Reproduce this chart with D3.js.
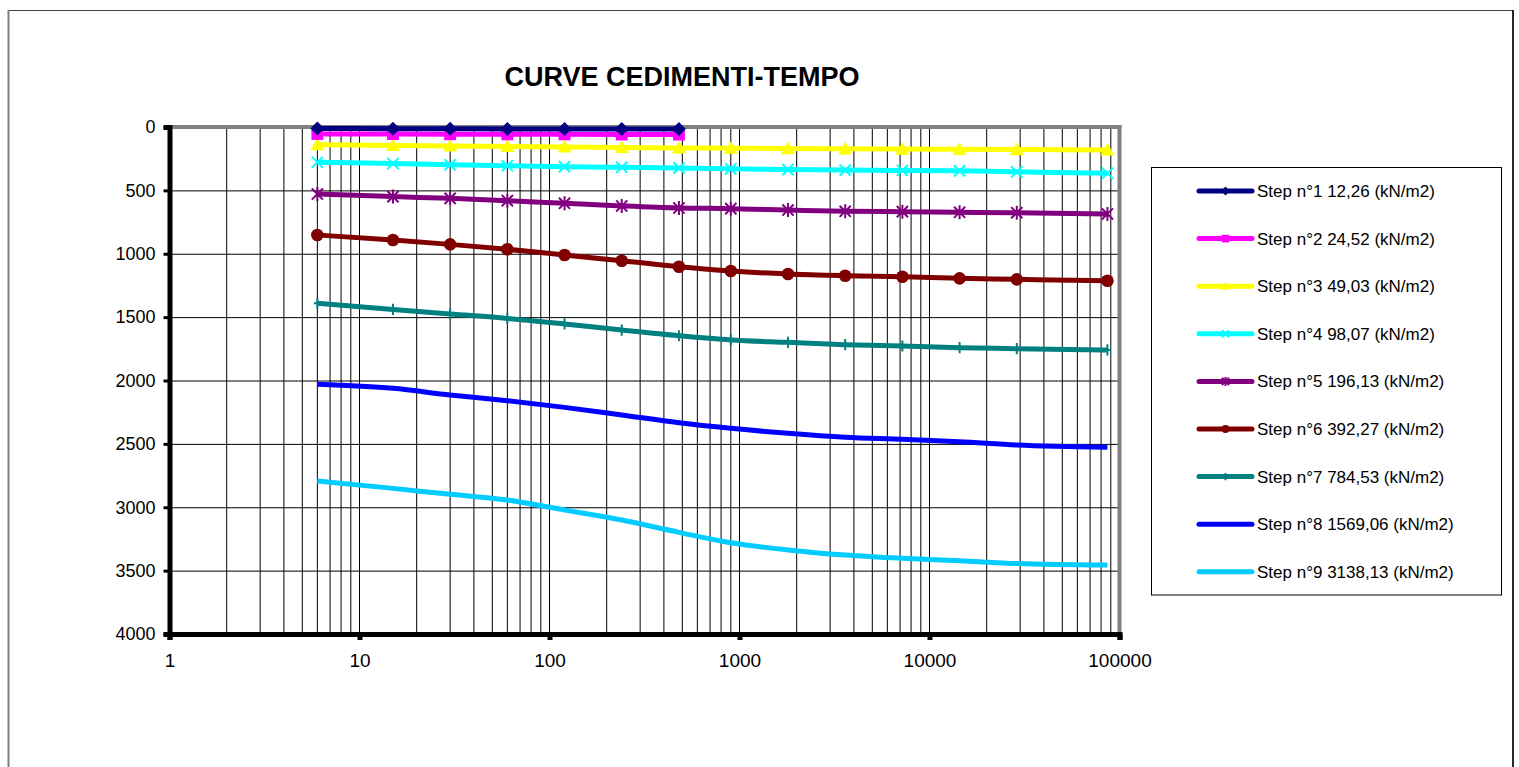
<!DOCTYPE html>
<html><head><meta charset="utf-8">
<script src="https://cdn.jsdelivr.net/npm/d3@7"></script>
<style>html,body{margin:0;padding:0;background:#fff;}svg{display:block;font-family:Arial,"Liberation Sans",sans-serif;}</style>
</head><body>
<svg id="chart" width="1519" height="767"></svg>
<script>
const title = "CURVE CEDIMENTI-TEMPO";
const timesLong = [6, 15, 30, 60, 120, 240, 480, 900, 1800, 3600, 7200, 14400, 28800, 86400];
const timesShort = [6, 15, 30, 60, 120, 240, 480];
const seriesNames = [
  "Step n°1 12,26 (kN/m2)", "Step n°2 24,52 (kN/m2)", "Step n°3 49,03 (kN/m2)",
  "Step n°4 98,07 (kN/m2)", "Step n°5 196,13 (kN/m2)", "Step n°6 392,27 (kN/m2)",
  "Step n°7 784,53 (kN/m2)", "Step n°8 1569,06 (kN/m2)", "Step n°9 3138,13 (kN/m2)"
];
const seriesColors = ["#000080", "#FF00FF", "#FFFF00", "#00FFFF", "#800080", "#800000", "#008080", "#0000FF", "#00CCFF"];
const seriesMarkers = ["diamond", "square", "triangle", "x", "star", "circle", "plus", "none", "none"];
const step1 = [12, 13, 14, 15, 15, 16, 16];
const step2 = [55, 56, 57, 58, 58, 59, 60];
const step3 = [140, 145, 150, 153, 157, 161, 165, 167, 170, 172, 174, 176, 178, 181];
const step4 = [278, 288, 298, 306, 313, 318, 323, 330, 336, 340, 343, 346, 354, 365];
const step5 = [529, 549, 563, 581, 602, 623, 639, 644, 655, 665, 668, 673, 676, 686];
const step6 = [852, 892, 926, 965, 1010, 1055, 1102, 1136, 1160, 1173, 1181, 1194, 1202, 1213];
const step7 = [1391, 1439, 1475, 1510, 1554, 1602, 1647, 1680, 1699, 1717, 1728, 1741, 1749, 1759];
const step8 = [2030, 2062, 2114, 2159, 2212, 2272, 2333, 2377, 2417, 2448, 2464, 2483, 2509, 2527];
const step9 = [2793, 2851, 2898, 2943, 3022, 3101, 3198, 3280, 3337, 3377, 3403, 3422, 3444, 3456];
const yTicks = [0, 500, 1000, 1500, 2000, 2500, 3000, 3500, 4000];
const xTicks = [1, 10, 100, 1000, 10000, 100000];

const seriesValues = [step1, step2, step3, step4, step5, step6, step7, step8, step9];
const series = seriesValues.map((vals, i) => {
  const ts = vals.length === timesShort.length ? timesShort : timesLong;
  return {name: seriesNames[i], color: seriesColors[i], marker: seriesMarkers[i],
          points: vals.map((v, j) => ({t: ts[j], v}))};
});

const svg = d3.select("#chart");
// outer chart border
svg.append("rect").attr("x", 8.5).attr("y", 10.5).attr("width", 1504.5).attr("height", 800)
  .attr("fill", "#fff").attr("stroke", "#444").attr("stroke-width", 1);
svg.append("line").attr("x1", 8.5).attr("x2", 8.5).attr("y1", 10).attr("y2", 767)
  .attr("stroke", "#808080").attr("stroke-width", 2);
svg.append("line").attr("x1", 1513).attr("x2", 1513).attr("y1", 10).attr("y2", 767)
  .attr("stroke", "#000").attr("stroke-width", 1.5);

const x = d3.scaleLog().domain([1, 100000]).range([169.5, 1119.5]);
const y = d3.scaleLinear().domain([0, 4000]).range([127, 634]);

// title
svg.append("text").attr("x", 682).attr("y", 86).attr("text-anchor", "middle")
  .attr("font-size", 27).attr("font-weight", "bold").attr("fill", "#000").text(title);

// vertical gridlines at log minor ticks
const gridX = [];
for (let d = 1; d < 100000; d *= 10) for (let k = 1; k <= 9; k++) if (d * k > 1) gridX.push(d * k);
gridX.push(100000);
svg.append("g").selectAll("line").data(gridX).join("line")
  .attr("x1", d => x(d)).attr("x2", d => x(d)).attr("y1", y(0)).attr("y2", y(4000))
  .attr("stroke", "#000").attr("stroke-width", 1);
// horizontal gridlines
svg.append("g").selectAll("line").data(yTicks).join("line")
  .attr("x1", x(1)).attr("x2", x(100000)).attr("y1", d => y(d) + 0.5).attr("y2", d => y(d) + 0.5)
  .attr("stroke", "#000").attr("stroke-width", 1);

// plot area top & right borders (gray)
svg.append("line").attr("x1", x(1)).attr("x2", x(100000) + 2).attr("y1", y(0)).attr("y2", y(0))
  .attr("stroke", "#808080").attr("stroke-width", 4);
svg.append("line").attr("x1", x(100000)).attr("x2", x(100000)).attr("y1", y(0) - 2).attr("y2", y(4000))
  .attr("stroke", "#808080").attr("stroke-width", 4);

// axes
const yAxis = d3.axisLeft(y).tickValues(yTicks).tickSize(6).tickPadding(8).tickFormat(d3.format("d"));
const gy = svg.append("g").attr("transform", `translate(${x(1)},0)`).call(yAxis);
gy.select(".domain").attr("stroke", "#000").attr("stroke-width", 5);
gy.selectAll(".tick line").attr("stroke", "#000").attr("stroke-width", 3);
gy.selectAll(".tick text").attr("font-size", 18).attr("fill", "#000").attr("font-family", "Arial, 'Liberation Sans', sans-serif");

const xAxis = d3.axisBottom(x).tickValues(xTicks).tickSize(6).tickPadding(14).tickFormat(d3.format("d"));
const gx = svg.append("g").attr("transform", `translate(0,${y(4000)})`).call(xAxis);
gx.select(".domain").attr("stroke", "#000").attr("stroke-width", 5);
gx.selectAll(".tick line").attr("stroke", "#000").attr("stroke-width", 5);
gx.selectAll(".tick text").attr("font-size", 19).attr("fill", "#000").attr("font-family", "Arial, 'Liberation Sans', sans-serif");

// marker drawing
function drawMarker(g, type, color, s) {
  if (type === "none") return;
  if (type === "diamond") g.append("path").attr("d", `M0,${-s}L${s},0L0,${s}L${-s},0Z`).attr("fill", color);
  else if (type === "square") g.append("rect").attr("x", -s * 0.85).attr("y", -s * 0.85).attr("width", s * 1.7).attr("height", s * 1.7).attr("fill", color);
  else if (type === "triangle") g.append("path").attr("d", `M0,${-s}L${s},${s * 0.8}L${-s},${s * 0.8}Z`).attr("fill", color);
  else if (type === "circle") g.append("circle").attr("r", s * 0.9).attr("fill", color);
  else if (type === "x") g.append("path").attr("d", `M${-s * 0.8},${-s * 0.8}L${s * 0.8},${s * 0.8}M${-s * 0.8},${s * 0.8}L${s * 0.8},${-s * 0.8}`).attr("stroke", color).attr("stroke-width", 2);
  else if (type === "star") g.append("path").attr("d", `M${-s * 0.8},${-s * 0.8}L${s * 0.8},${s * 0.8}M${-s * 0.8},${s * 0.8}L${s * 0.8},${-s * 0.8}M0,${-s}L0,${s}`).attr("stroke", color).attr("stroke-width", 2);
  else if (type === "plus") g.append("path").attr("d", `M0,${-s * 0.8}L0,${s * 0.8}M${-s * 0.5},0L${s * 0.5},0`).attr("stroke", color).attr("stroke-width", 2);
}

const line = d3.line().x(d => x(d.t)).y(d => y(d.v)).curve(d3.curveMonotoneX);
const gSeries = svg.append("g");
series.slice().reverse().forEach(s => {
  gSeries.append("path").datum(s.points).attr("d", line).attr("fill", "none")
    .attr("stroke", s.color).attr("stroke-width", 5).attr("stroke-linejoin", "round");
  s.points.forEach(p => {
    const g = gSeries.append("g").attr("transform", `translate(${x(p.t)},${y(p.v)})`);
    drawMarker(g, s.marker, s.color, 7);
  });
});

// legend
svg.append("rect").attr("x", 1151.5).attr("y", 167.5).attr("width", 350).attr("height", 427.5)
  .attr("fill", "#fff").attr("stroke", "#000").attr("stroke-width", 1);
const lg = svg.append("g");
series.forEach((s, i) => {
  const cy = 191 + i * 47.6;
  lg.append("line").attr("x1", 1199).attr("x2", 1252).attr("y1", cy).attr("y2", cy)
    .attr("stroke", s.color).attr("stroke-width", 5).attr("stroke-linecap", "round");
  const g = lg.append("g").attr("transform", `translate(1225.5,${cy})`);
  drawMarker(g, s.marker, s.color, 4.5);
  lg.append("text").attr("x", 1257).attr("y", cy).attr("dy", "0.35em")
    .attr("font-size", 17).attr("fill", "#000").text(s.name);
});
</script>
</body></html>
